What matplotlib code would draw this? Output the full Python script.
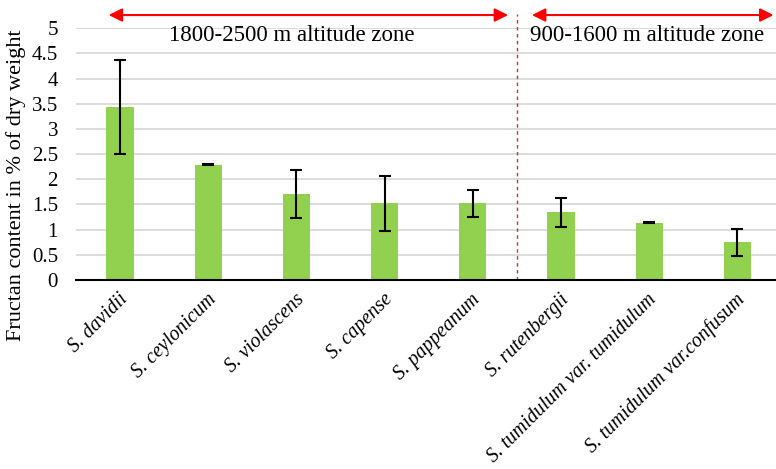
import matplotlib
matplotlib.use("Agg")
import matplotlib.pyplot as plt
from matplotlib.transforms import ScaledTranslation

# species and fructan content (% of dry weight), with error bar half-widths
species = ["S. davidii", "S. ceylonicum", "S. violascens", "S. capense",
           "S. pappeanum", "S. rutenbergii", "S. tumidulum var. tumidulum",
           "S. tumidulum var.confusum"]
fructan = [3.43, 2.29, 1.71, 1.52, 1.52, 1.34, 1.14, 0.75]
error = [0.93, 0.01, 0.47, 0.54, 0.27, 0.28, 0.01, 0.27]
zone_labels = ["1800-2500 m altitude zone", "900-1600 m altitude zone"]

BAR_COLOR = "#92D050"
ARROW_COLOR = "#FF0000"

plt.rcParams["font.family"] = ["Liberation Serif", "DejaVu Serif"]

fig = plt.figure(figsize=(7.76, 4.69), dpi=100)
ax = fig.add_axes([0.098, 0.403, 0.909, 0.537])

x = list(range(len(species)))
ax.bar(x, fructan, width=0.31, color=BAR_COLOR, zorder=2)
ax.errorbar(x, fructan, yerr=error, fmt="none", ecolor="black",
            elinewidth=1.5, capsize=4, capthick=1.5, zorder=3)

ax.set_xlim(-0.5, 7.5)
ax.set_ylim(0, 5)
ax.set_yticks([i * 0.5 for i in range(11)])
ax.set_yticklabels(["0", "0.5", "1", "1.5", "2", "2.5", "3", "3.5", "4", "4.5", "5"])
ax.yaxis.grid(True, color="#d9d9d9", linewidth=1.3, zorder=0)
ax.set_axisbelow(True)

for side in ["top", "right", "left"]:
    ax.spines[side].set_visible(False)
ax.spines["bottom"].set_linewidth(1.5)
ax.spines["bottom"].set_zorder(4)

ax.tick_params(axis="y", length=0, pad=13, labelsize=15)
ax.tick_params(axis="x", length=0, pad=0)
ax.set_xticks(x)
ax.set_xticklabels(species, rotation=45, ha="right", va="center",
                   rotation_mode="anchor", fontstyle="italic", fontsize=14.4)
# nudge the slanted names so they end just right of each bar
shift = ScaledTranslation(0.05, -0.17, fig.dpi_scale_trans)
for lbl in ax.get_xticklabels():
    lbl.set_transform(lbl.get_transform() + shift)

ax.set_ylabel("Fructan content in % of dry weight", fontsize=16)
ax.yaxis.set_label_coords(-0.071, 0.377)

# altitude zone separators
ax.plot([4.5, 4.5], [0, 5.28], color="#C8323A", linestyle=(0, (2.5, 2.5)),
        linewidth=1, clip_on=False, zorder=1)
for x0, x1 in [(-0.13, 4.4), (4.67, 7.41)]:
    ax.annotate("", xy=(x0, 5.26), xytext=(x1, 5.26),
                arrowprops=dict(arrowstyle="<|-|>", color=ARROW_COLOR, lw=1.5,
                                mutation_scale=20, shrinkA=0, shrinkB=0),
                annotation_clip=False)
ax.text(1.95, 4.86, zone_labels[0], ha="center", va="center", fontsize=16.5)
ax.text(5.98, 4.86, zone_labels[1], ha="center", va="center", fontsize=16.5)

fig.savefig("out.png", dpi=100)
